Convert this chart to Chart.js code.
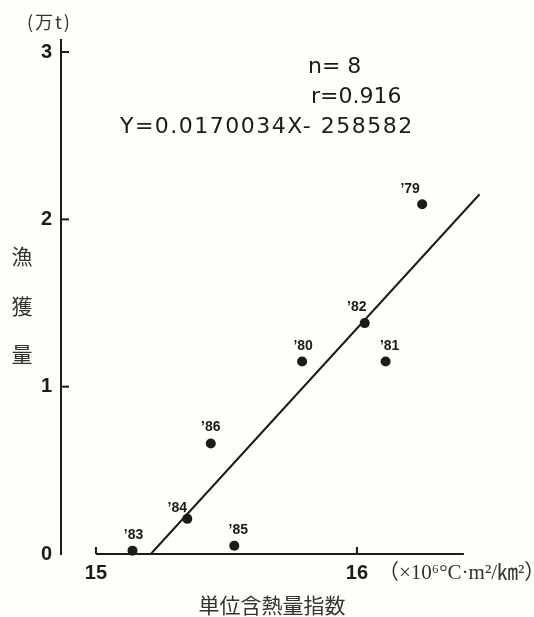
<!DOCTYPE html>
<html lang="ja">
<head>
    <meta charset="UTF-8">
    <title>単位含熱量指数と漁獲量</title>
    <style>
        html, body { margin: 0; padding: 0; background: #fefefa; }
        canvas { display: block; }
    </style>
</head>
<body>
    <canvas id="myChart" width="534" height="617"></canvas>

    <script src="https://cdn.jsdelivr.net/npm/chart.js"></script>
    <script>
        // values
        var years = ["’79", "’80", "’81", "’82", "’83", "’84", "’85", "’86"];
        var heatIndex = [16.25, 15.79, 16.11, 16.03, 15.14, 15.35, 15.53, 15.44];
        var catchAmt = [2.09, 1.15, 1.15, 1.38, 0.02, 0.21, 0.05, 0.66];
        var fitX = [15.21, 16.47];
        var fitY = [0, 2.15];
        var xTicks = [15, 16];
        var yTicks = [0, 1, 2, 3];

        // label nudges (px) for each year
        var labelShift = {
            "’79": [-12, -15], "’80": [1, -15], "’81": [4, -15], "’82": [-8, -16],
            "’83": [1, -16], "’84": [-10, -11], "’85": [4, -15], "’86": [0, -16]
        };

        var ink = '#1b1b1b';

        var decor = {
            id: 'decor',
            afterDatasetsDraw: function (chart) {
                var ctx = chart.ctx;
                var xs = chart.scales.x, ys = chart.scales.y;
                var left = chart.chartArea.left;
                ctx.save();
                ctx.strokeStyle = ink;
                ctx.lineWidth = 2;

                // y tick marks (inside)
                yTicks.forEach(function (v) {
                    if (v === 0) return;
                    var y = ys.getPixelForValue(v);
                    ctx.beginPath();
                    ctx.moveTo(left, y);
                    ctx.lineTo(left + 8, y);
                    ctx.stroke();
                });

                // detached x axis line
                var y0 = ys.getPixelForValue(0);
                ctx.beginPath();
                ctx.moveTo(xs.getPixelForValue(15), y0);
                ctx.lineTo(xs.getPixelForValue(16.41), y0);
                ctx.stroke();
                xTicks.forEach(function (v) {
                    var x = xs.getPixelForValue(v);
                    ctx.beginPath();
                    ctx.moveTo(x, y0);
                    ctx.lineTo(x, y0 - 7);
                    ctx.stroke();
                });

                // point labels
                ctx.fillStyle = ink;
                ctx.font = 'bold 14px "Liberation Sans", Arial, sans-serif';
                ctx.textAlign = 'center';
                ctx.textBaseline = 'middle';
                chart.getDatasetMeta(0).data.forEach(function (pt, i) {
                    var s = labelShift[years[i]] || [0, -15];
                    ctx.fillText(years[i], pt.x + s[0], pt.y + s[1]);
                });

                // statistics
                ctx.textAlign = 'left';
                ctx.font = '22px "DejaVu Sans", sans-serif';
                ctx.fillText('n= 8', 308, 67);
                ctx.fillText('r=0.916', 311, 97);
                ctx.letterSpacing = '1.5px';
                ctx.fillText('Y=0.0170034X- 258582', 120, 127);
                ctx.letterSpacing = '0px';

                // unit of y
                ctx.fillStyle = '#333';
                ctx.font = '18px "Noto Sans CJK JP", sans-serif';
                ctx.letterSpacing = '2px';
                ctx.fillText('(万t)', 27, 22);
                ctx.letterSpacing = '0px';

                // y title, stacked
                ctx.textAlign = 'center';
                ctx.font = '21px "Noto Sans CJK JP", sans-serif';
                ctx.fillText('漁', 22, 256);
                ctx.fillText('獲', 22, 306);
                ctx.fillText('量', 22, 354);

                // x unit and title
                ctx.textAlign = 'left';
                ctx.font = '21px "Liberation Serif", "Noto Sans CJK JP", serif';
                ctx.fillText('（×10⁶°C·m²/㎞²）', 378, 573);
                ctx.textAlign = 'center';
                ctx.font = '21px "Noto Sans CJK JP", sans-serif';
                ctx.fillText('単位含熱量指数', 272, 605);
                ctx.restore();
            }
        };

        var points = heatIndex.map(function (x, i) { return { x: x, y: catchAmt[i] }; });
        var fitLine = fitX.map(function (x, i) { return { x: x, y: fitY[i] }; });

        var tickFont = { family: '"Liberation Sans", Arial, sans-serif', size: 20, weight: 'bold' };

        new Chart(document.getElementById('myChart').getContext('2d'), {
            type: 'scatter',
            data: {
                datasets: [
                    {
                        data: points,
                        backgroundColor: ink,
                        borderColor: ink,
                        pointRadius: 5,
                        borderWidth: 0,
                        clip: false
                    },
                    {
                        type: 'line',
                        data: fitLine,
                        borderColor: ink,
                        borderWidth: 2,
                        pointRadius: 0,
                        fill: false,
                        clip: false
                    }
                ]
            },
            options: {
                responsive: false,
                animation: false,
                events: [],
                layout: { padding: { top: 40, right: 44, left: 0, bottom: 0 } },
                plugins: { legend: { display: false }, tooltip: { enabled: false } },
                scales: {
                    x: {
                        type: 'linear',
                        min: 14.866,
                        max: 16.51,
                        afterBuildTicks: function (s) { s.ticks = xTicks.map(function (v) { return { value: v }; }); },
                        afterFit: function (s) { s.height = 63; },
                        grid: { display: false, drawTicks: false },
                        border: { display: false },
                        ticks: { font: tickFont, color: ink, padding: 7, maxRotation: 0 }
                    },
                    y: {
                        min: 0,
                        max: 3.072,
                        afterBuildTicks: function (s) { s.ticks = yTicks.map(function (v) { return { value: v }; }); },
                        afterFit: function (s) { s.width = 61; },
                        grid: { display: false, drawTicks: false },
                        border: { display: true, color: ink, width: 2 },
                        ticks: { font: tickFont, color: ink, padding: 9 }
                    }
                }
            },
            plugins: [decor]
        });
    </script>
</body>
</html>
